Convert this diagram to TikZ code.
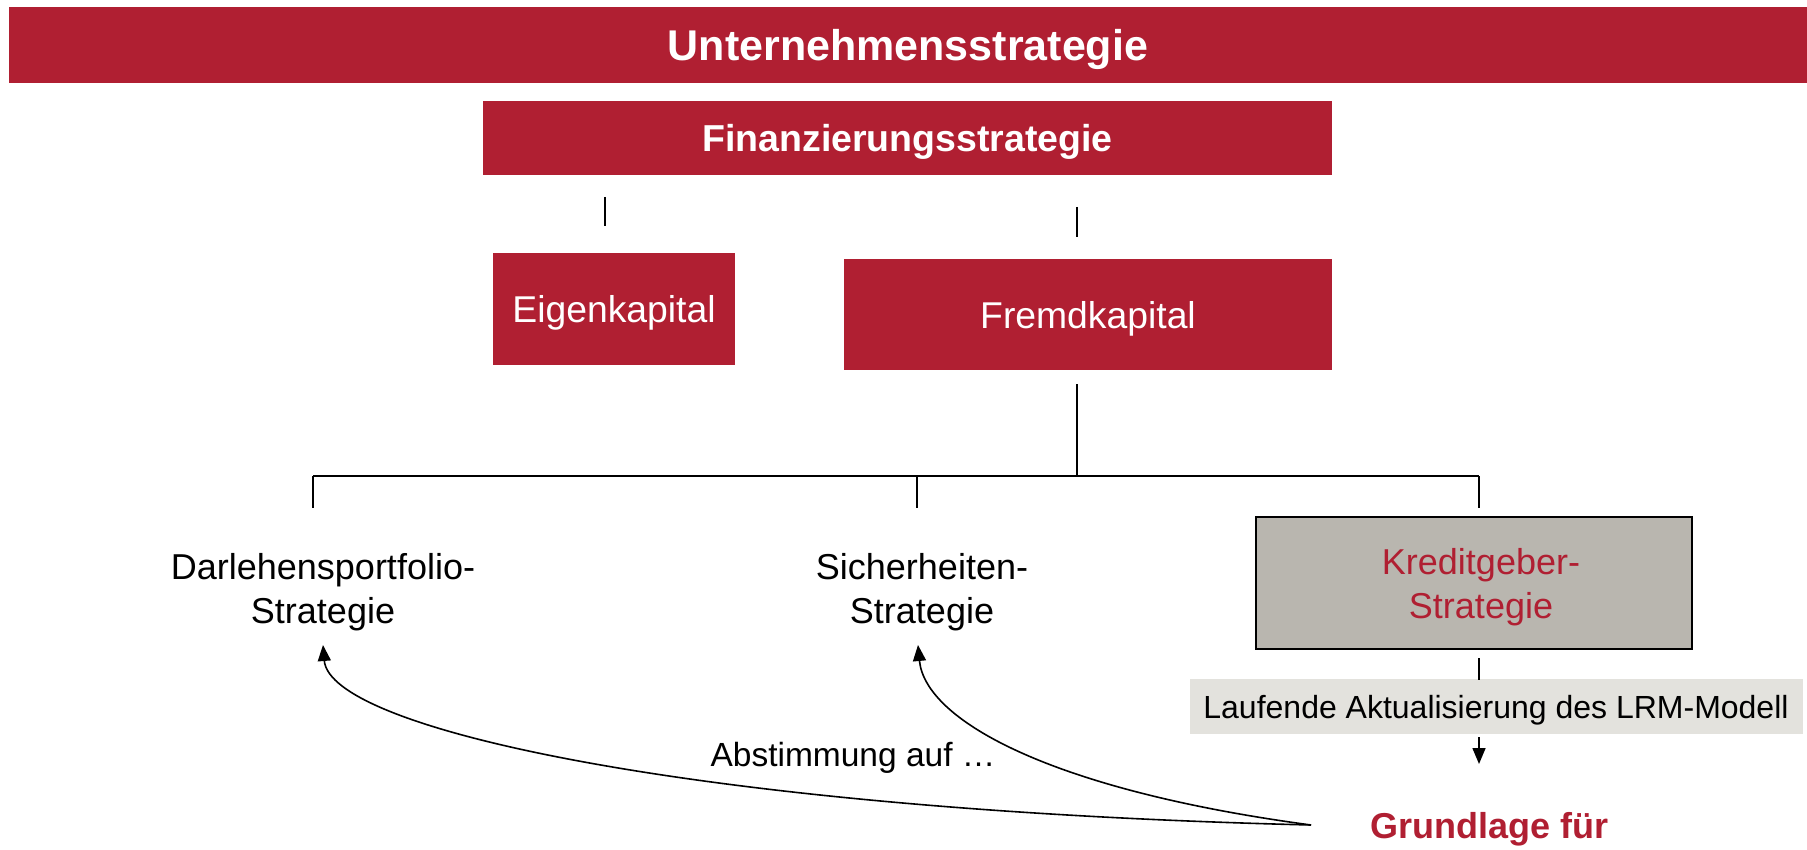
\documentclass[tikz,border=0pt]{standalone}
\usepackage{fontspec}
\setmainfont{Liberation Sans}
\usetikzlibrary{arrows.meta}
\definecolor{cred}{RGB}{176,31,50}
\definecolor{cgrey}{RGB}{185,182,175}
\definecolor{clight}{RGB}{227,226,221}
\begin{document}
\begin{tikzpicture}[x=1pt,y=-1pt,
  redbox/.style={fill=cred, text=white, inner sep=0pt, align=center},
  plain/.style={inner sep=0pt, align=center, font=\fontsize{36}{44}\selectfont},
  conn/.style={line width=1.6pt},
  arr/.style={line width=1.6pt, -{Triangle[length=16pt,width=13pt]}}]
\useasboundingbox (0,0) rectangle (1807,850);
% top bars
\node[redbox, minimum width=1798pt, minimum height=76pt, text depth=-3pt, font=\fontsize{43}{50}\selectfont\bfseries] (U) at (908,45) {Unternehmensstrategie};
\node[redbox, minimum width=849pt, minimum height=74pt, text depth=-1.5pt, font=\fontsize{37.5}{44}\selectfont\bfseries] (F) at (907.5,138) {Finanzierungsstrategie};
% capital boxes
\node[redbox, minimum width=242pt, minimum height=112pt, text depth=-1.5pt, font=\fontsize{37.3}{44}\selectfont] (EK) at (614,309) {Eigenkapital};
\node[redbox, minimum width=488pt, minimum height=111pt, text depth=-1.5pt, font=\fontsize{37.3}{44}\selectfont] (FK) at (1088,314.5) {Fremdkapital};
% short marks
\coordinate (ekA) at (605,197); \coordinate (ekB) at (605,226);
\coordinate (fkA) at (1077,207); \coordinate (fkB) at (1077,237);
\draw[conn] (ekA) -- (ekB);
\draw[conn] (fkA) -- (fkB);
% tree
\coordinate (t0) at (1077,384);
\coordinate (t1) at (1077,476);
\coordinate (hl) at (313,476);
\coordinate (hm) at (917,476);
\coordinate (hr) at (1479,476);
\coordinate (dl) at (313,508);
\coordinate (dm) at (917,508);
\coordinate (dr) at (1479,508);
\draw[conn] (t0) -- (t1);
\draw[conn] (hl) -- (hr);
\draw[conn] (hl) -- (dl);
\draw[conn] (hm) -- (dm);
\draw[conn] (hr) -- (dr);
% strategies
\node[plain] (D) at (323,592) {Darlehensportfolio-\\Strategie};
\node[plain] (S) at (922,592) {Sicherheiten-\\Strategie};
\node[plain, fill=cgrey, draw=black, line width=1.6pt, text=cred, minimum width=436pt, minimum height=132pt, text depth=-12pt] (K) at (1474,583) {\hspace*{14pt}Kreditgeber-\\\hspace*{14pt}Strategie};
% update box
\node[plain, fill=clight, minimum width=613pt, minimum height=55pt, text depth=-2.5pt, font=\fontsize{32}{38}\selectfont] (L) at (1496,706.5) {Laufende Aktualisierung des LRM-Modell};
\coordinate (kA) at (1479,658); \coordinate (kB) at (1479,680);
\draw[conn] (kA) -- (kB);
\coordinate (lA) at (1479,737); \coordinate (lB) at (1479,764);
\draw[arr] (lA) -- (lB);
% bottom
\node[plain, text=cred, font=\fontsize{36}{44}\selectfont\bfseries] (G) at (1489,829) {Grundlage für};
\coordinate (gs) at (1311,825);
\coordinate (dt) at (323,645);
\coordinate (st) at (918,645);
\draw[arr] (gs) .. controls (700,810) and (330,730) .. (dt);
\draw[arr] (gs) .. controls (1050,790) and (925,720) .. (st);
\node[plain, font=\fontsize{33.5}{40}\selectfont] (A) at (853,758) {Abstimmung auf …};
\end{tikzpicture}
\end{document}
